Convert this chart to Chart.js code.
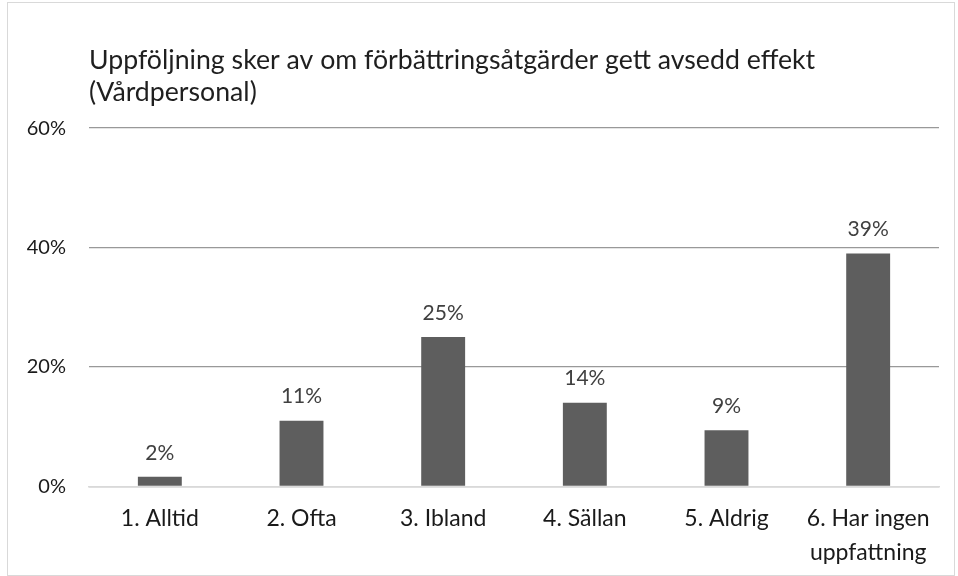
<!DOCTYPE html>
<html>
<head>
<meta charset="utf-8">
<script src="https://cdn.jsdelivr.net/npm/chart.js"></script>
<style>
  html, body { margin: 0; padding: 0; background: #fff; }
  #wrap { position: absolute; left: 7px; top: 2px; width: 948px; height: 574px; box-sizing: border-box; border: 1px solid #d9d9d9; }
</style>
</head>
<body>
<div id="wrap"><canvas id="chart"></canvas></div>
<script>
    "use strict";

    // Data
    const categories = ["1. Alltid", "2. Ofta", "3. Ibland", "4. Sällan", "5. Aldrig", ["6. Har ingen", "uppfattning"]];
    const shares = [1.6, 11, 25, 14, 9.4, 39];
    const titleLines = ["Uppföljning sker av om förbättringsåtgärder gett avsedd effekt", "(Vårdpersonal)"];

    const fontFamily = "Lato, 'Open Sans', sans-serif";

    // Draw the value label above each bar
    const valueLabels = {
        id: "valueLabels",
        afterDatasetsDraw: function (chart) {
            const ctx = chart.ctx;
            const meta = chart.getDatasetMeta(0);
            ctx.save();
            ctx.font = "21px " + fontFamily;
            ctx.fillStyle = "#404040";
            ctx.textAlign = "center";
            ctx.textBaseline = "middle";
            meta.data.forEach(function (bar, i) {
                ctx.fillText(Math.round(shares[i]) + "%", bar.x, bar.y - 24);
            });
            ctx.restore();
        }
    };

    const ctx = document.getElementById("chart").getContext("2d");
    new Chart(ctx, {
        type: "bar",
        data: {
            labels: categories,
            datasets: [{
                data: shares,
                backgroundColor: "#5e5e5e",
                borderWidth: 0,
                categoryPercentage: 1,
                barPercentage: 0.31
            }]
        },
        options: {
            responsive: true,
            maintainAspectRatio: false,
            animation: false,
            layout: { padding: { left: 15, right: 15, top: 0, bottom: 10 } },
            plugins: {
                legend: { display: false },
                tooltip: { enabled: false },
                title: {
                    display: true,
                    text: titleLines,
                    align: "start",
                    fullSize: false,
                    color: "#1f1f1f",
                    font: { family: fontFamily, size: 26.7, weight: "normal", lineHeight: 1.2 },
                    padding: { top: 41, bottom: 20 }
                }
            },
            scales: {
                x: {
                    grid: { display: false, drawTicks: false },
                    border: { color: "#d9d9d9", width: 1.5 },
                    ticks: {
                        color: "#1a1a1a",
                        font: { family: fontFamily, size: 23, lineHeight: 1.45 },
                        padding: 16,
                        maxRotation: 0
                    },
                    afterFit: function (scale) { scale.height -= 20; }
                },
                y: {
                    min: 0,
                    max: 60,
                    grid: { color: "#999999", lineWidth: 1.3, drawTicks: false },
                    border: { display: false },
                    ticks: {
                        stepSize: 20,
                        color: "#1a1a1a",
                        font: { family: fontFamily, size: 20 },
                        padding: 23,
                        callback: function (v) { return v + "%"; }
                    },
                    afterFit: function (scale) { scale.width = 66; }
                }
            }
        },
        plugins: [valueLabels]
    });
</script>
</body>
</html>
